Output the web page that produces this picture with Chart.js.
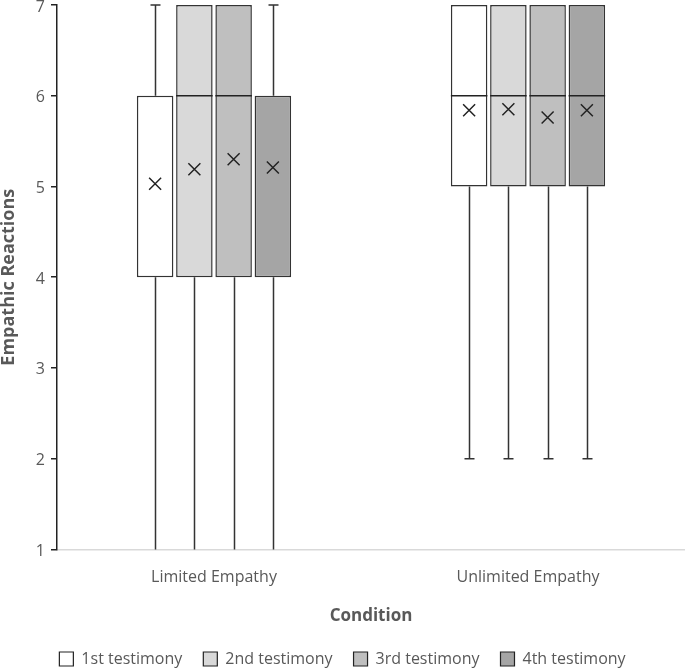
<!DOCTYPE html>
<html><head><meta charset="utf-8">
<script src="https://cdn.jsdelivr.net/npm/chart.js@4/dist/chart.umd.min.js"></script>
<style>html,body{margin:0;padding:0;background:#fff}#wrap{width:685px;height:670px}</style>
</head><body><div id="wrap"><canvas id="c" width="685" height="670"></canvas></div>
<script>
const categories = ["Limited Empathy", "Unlimited Empathy"];
const seriesNames = ["1st testimony", "2nd testimony", "3rd testimony", "4th testimony"];
const seriesColors = ["#ffffff", "#d9d9d9", "#bfbfbf", "#a5a5a5"];
// per series: values for [Limited, Unlimited]
const mins    = [[1, 2], [1, 2], [1, 2], [1, 2]];
const q1s     = [[4, 5], [4, 5], [4, 5], [4, 5]];
const medians = [[6, 6], [6, 6], [6, 6], [6, 6]];
const q3s     = [[6, 7], [7, 7], [7, 7], [6, 7]];
const maxs    = [[7, 7], [7, 7], [7, 7], [7, 7]];
const means   = [[5.03, 5.84], [5.19, 5.85], [5.30, 5.76], [5.21, 5.84]];
const yTicks  = [1, 2, 3, 4, 5, 6, 7];

const FONT = "'Open Sans', 'Liberation Sans', sans-serif";
const TXT = "#595959";
const LINE = "#333333";

const boxPlugin = {
  id: 'boxExtras',
  beforeDatasetsDraw(chart) {
    const ctx = chart.ctx, ys = chart.scales.y;
    ctx.save();
    ctx.strokeStyle = LINE; ctx.lineWidth = 1.5;
    chart.data.datasets.forEach((ds, di) => {
      const meta = chart.getDatasetMeta(di);
      meta.data.forEach((el, i) => {
        const x = Math.round(el.x) + 0.5;
        const cap = 5;
        const yq3 = ys.getPixelForValue(q3s[di][i]);
        const yq1 = ys.getPixelForValue(q1s[di][i]);
        const ymax = ys.getPixelForValue(maxs[di][i]);
        const ymin = ys.getPixelForValue(mins[di][i]);
        ctx.beginPath();
        if (maxs[di][i] > q3s[di][i]) {
          ctx.moveTo(x, yq3); ctx.lineTo(x, ymax);
          ctx.moveTo(x - cap, ymax); ctx.lineTo(x + cap, ymax);
        }
        if (mins[di][i] < q1s[di][i]) {
          ctx.moveTo(x, yq1); ctx.lineTo(x, ymin);
          if (mins[di][i] > ys.min) { ctx.moveTo(x - cap, ymin); ctx.lineTo(x + cap, ymin); }
        }
        ctx.stroke();
      });
    });
    ctx.restore();
  },
  afterDatasetsDraw(chart) {
    const ctx = chart.ctx, ys = chart.scales.y;
    ctx.save();
    ctx.strokeStyle = "#222"; ctx.lineWidth = 1.5;
    chart.data.datasets.forEach((ds, di) => {
      const meta = chart.getDatasetMeta(di);
      meta.data.forEach((el, i) => {
        const half = el.width / 2;
        if (medians[di][i] > q1s[di][i] && medians[di][i] < q3s[di][i]) {
          const ym = ys.getPixelForValue(medians[di][i]);
          ctx.beginPath();
          ctx.moveTo(el.x - half, ym); ctx.lineTo(el.x + half, ym);
          ctx.stroke();
        }
        const ya = ys.getPixelForValue(means[di][i]);
        const r = 6;
        ctx.beginPath();
        ctx.moveTo(el.x - r, ya - r); ctx.lineTo(el.x + r, ya + r);
        ctx.moveTo(el.x - r, ya + r); ctx.lineTo(el.x + r, ya - r);
        ctx.stroke();
      });
    });
    ctx.restore();
  }
};

const datasets = seriesNames.map((name, di) => ({
  label: name,
  data: categories.map((c, i) => [q1s[di][i], q3s[di][i]]),
  backgroundColor: seriesColors[di],
  borderColor: LINE,
  borderWidth: 1.5,
  borderSkipped: false,
  categoryPercentage: 0.5,
  barPercentage: 0.93
}));

new Chart(document.getElementById('c'), {
  type: 'bar',
  data: { labels: categories, datasets },
  plugins: [boxPlugin],
  options: {
    responsive: false,
    animation: false,
    layout: { padding: { top: 5, right: 0, left: 0, bottom: -7 } },
    plugins: {
      tooltip: { enabled: false },
      legend: {
        position: 'bottom',
        labels: {
          color: TXT,
          font: { family: FONT, size: 16 },
          boxWidth: 14, boxHeight: 14,
          padding: 21,
          generateLabels(chart) {
            return chart.data.datasets.map((ds, i) => ({
              text: ds.label, fillStyle: ds.backgroundColor, strokeStyle: '#222',
              lineWidth: 1.2, datasetIndex: i, fontColor: TXT
            }));
          }
        }
      }
    },
    scales: {
      x: {
        grid: { display: false, drawTicks: false },
        border: { display: true, color: '#d9d9d9', width: 1.5 },
        ticks: { color: TXT, font: { family: FONT, size: 16 }, padding: 18 },
        title: { display: true, text: 'Condition', color: TXT, font: { family: FONT, size: 17, weight: 'bold' }, padding: { top: 1, bottom: 4 } }
      },
      y: {
        min: 1, max: 7,
        afterBuildTicks(scale) { scale.ticks = yTicks.map(v => ({ value: v })); },
        afterFit(scale) { scale.width = 57; scale.paddingTop = 0; scale.paddingBottom = 0; },
        grid: { drawOnChartArea: false, drawTicks: true, tickLength: 6, color: '#222', lineWidth: 1.5 },
        border: { display: true, color: '#222', width: 1.5 },
        ticks: { color: TXT, font: { family: FONT, size: 16 }, padding: 6, labelOffset: 2 },
        title: { display: true, text: 'Empathic Reactions', color: TXT, font: { family: FONT, size: 18, weight: 'bold', lineHeight: 1 }, padding: 0 }
      }
    }
  }
});
</script></body></html>
